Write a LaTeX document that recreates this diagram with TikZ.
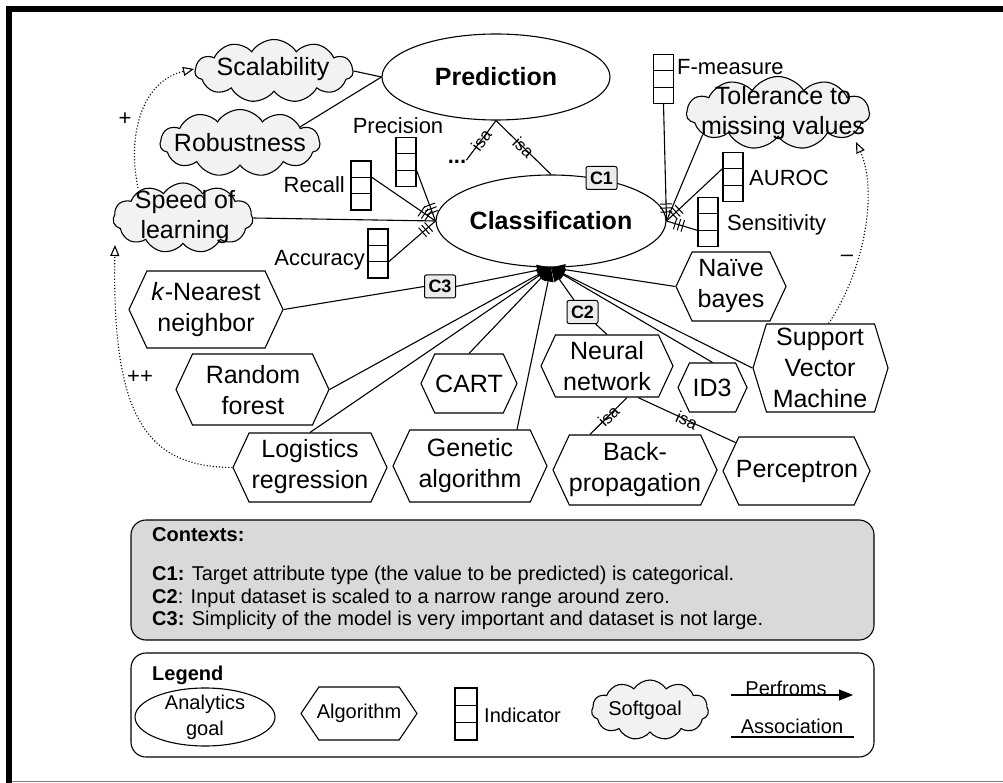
\documentclass[tikz,border=0pt]{standalone}
\usepackage{fontspec}
\setmainfont{Liberation Sans}
\usetikzlibrary{shapes.geometric,shapes.symbols,arrows.meta,decorations.markings,calc}
\newcommand{\fsz}[2]{\fontsize{#1pt}{#2pt}\selectfont}
\tikzset{
  ln/.style={line width=1.1pt},
  goal/.style={ellipse, draw, ln, fill=white, font=\bfseries\fsz{25}{28}, inner sep=0pt},
  soft/.style={cloud, cloud puffs=11, cloud puff arc=115, cloud ignores aspect, draw, ln, fill=gray!10, inner sep=0pt},
  softtext/.style={font=\fsz{25}{30}, align=center, inner sep=0pt},
  algo/.style={signal, signal to=west and east, signal pointer angle=130, draw, ln, fill=white, inner sep=0pt},
  algotext/.style={font=\fsz{25}{31}, align=center, inner sep=0pt},
  indic/.style={rectangle, draw, ln, fill=white, minimum width=20pt, minimum height=49pt, inner sep=0pt,
    path picture={
      \draw[ln] ($(path picture bounding box.north west)!1/3!(path picture bounding box.south west)$) -- ($(path picture bounding box.north east)!1/3!(path picture bounding box.south east)$);
      \draw[ln] ($(path picture bounding box.north west)!2/3!(path picture bounding box.south west)$) -- ($(path picture bounding box.north east)!2/3!(path picture bounding box.south east)$);}},
  lbl/.style={font=\fsz{22}{26}, inner sep=0pt},
  ctxtag/.style={rectangle, rounded corners=2pt, draw, line width=1pt, fill=gray!15, font=\bfseries\fsz{18}{20}, minimum width=31pt, minimum height=23pt, inner sep=0pt},
  perf/.style={ln, -{Triangle[length=14pt,width=11pt]}},
  contrib/.style={ln, dotted, -{Triangle[open,length=11pt,width=9pt]}},
  tripletick/.style={postaction={decorate}, decoration={markings,
     mark=at position -9pt with {\draw[line width=1pt] (0pt,-6pt) -- (0pt,6pt);},
     mark=at position -13pt with {\draw[line width=1pt] (0pt,-6pt) -- (0pt,6pt);},
     mark=at position -17pt with {\draw[line width=1pt] (0pt,-6pt) -- (0pt,6pt);}}},
  isalbl/.style={sloped, font=\fsz{17}{17}, inner sep=0pt},
  ctxtext/.style={font=\fsz{20}{23}, anchor=west, inner sep=0pt},
  legtext/.style={font=\fsz{20}{26}, align=center, inner sep=0pt},
}
\begin{document}
\begin{tikzpicture}[x=1pt,y=-1pt]
\useasboundingbox (0,0) rectangle (1003,783);
% outer frame
\coordinate (fbl) at (9,783);
\coordinate (ftl) at (9,9);
\coordinate (ftr) at (1003,9);
\draw[line width=6pt] (fbl) -- (ftl) -- (ftr);
\coordinate (gbl) at (12,781);
\coordinate (gbr) at (1003,781);
\draw[line width=1pt, gray] (gbl) -- (gbr);

% analytics goals
\node[goal, minimum width=228pt, minimum height=86pt] (pred) at (496,77) {Prediction};
\node[goal, minimum width=228pt, minimum height=92pt] (cls) at (551,221) {Classification};
\node[font=\bfseries\fsz{22}{22}, inner sep=0pt] (dots) at (457,162) {...};

% softgoals
\node[soft, minimum width=158pt, minimum height=63pt] (scal) at (274,71) {};
\node[softtext] (scal-t) at (273,69) {Scalability};
\node[soft, minimum width=160pt, minimum height=67pt] (rob) at (240,143) {};
\node[softtext] (rob-t) at (240,143) {Robustness};
\node[soft, minimum width=140pt, minimum height=70pt] (speed) at (183,218) {};
\node[softtext] (speed-t) at (185,217) {Speed of\\learning};
\node[soft, minimum width=183pt, minimum height=73pt] (tol) at (778,113) {};
\node[softtext] (tol-t) at (783,113) {Tolerance to\\missing values};

% indicators
\node[indic] (rec) at (361,185.5) {};
\node[lbl, anchor=east] (rec-l) at (345,185) {Recall};
\node[indic] (prec) at (406,162) {};
\node[lbl] (prec-l) at (398,126) {Precision};
\node[indic] (acc) at (378,253.5) {};
\node[lbl, anchor=east] (acc-l) at (365,260) {Accuracy};
\node[indic] (fm) at (663.5,79) {};
\node[lbl, anchor=west] (fm-l) at (677,67) {F-measure};
\node[indic] (auc) at (733,177) {};
\node[lbl, anchor=west] (auc-l) at (749,178) {AUROC};
\node[indic] (sens) at (708,222) {};
\node[lbl, anchor=west] (sens-l) at (727,225) {Sensitivity};

% algorithms
\node[algo, minimum width=154pt, minimum height=77pt] (knn) at (206,309.5) {};
\node[algotext] (knn-t) at (206,310) {\textit{k}-Nearest\\neighbor};
\node[algo, minimum width=153pt, minimum height=71pt] (rf) at (252.5,389.5) {};
\node[algotext] (rf-t) at (253,390) {Random\\forest};
\node[algo, minimum width=154pt, minimum height=69pt] (lr) at (310,467.5) {};
\node[algotext] (lr-t) at (310,467) {Logistics\\regression};
\node[algo, minimum width=96pt, minimum height=59pt] (cart) at (469,383.5) {};
\node[algotext] (cart-t) at (469,384) {CART};
\node[algo, minimum width=154pt, minimum height=72pt] (ga) at (470,466) {};
\node[algotext] (ga-t) at (470,466) {Genetic\\algorithm};
\node[algo, minimum width=110pt, minimum height=69pt] (nb) at (731,286.5) {};
\node[algotext] (nb-t) at (731,286) {Naïve\\bayes};
\node[algo, minimum width=132pt, minimum height=62pt] (nn) at (607,366) {};
\node[algotext] (nn-t) at (607,366) {Neural\\network};
\node[algo, minimum width=69pt, minimum height=49pt] (id3) at (712.5,387.5) {};
\node[algotext] (id3-t) at (712,388) {ID3};
\node[algo, signal pointer angle=146, minimum width=135pt, minimum height=88pt] (svm) at (820.5,368) {};
\node[algotext] (svm-t) at (820,368) {Support\\Vector\\Machine};
\node[algo, minimum width=164pt, minimum height=70pt] (bp) at (635,470) {};
\node[algotext] (bp-t) at (635,470) {Back-\\propagation};
\node[algo, minimum width=147pt, minimum height=68pt] (perc) at (796.5,471) {};
\node[algotext] (perc-t) at (797,471) {Perceptron};

% contexts tags
\node[ctxtag] (c1) at (601.5,178) {C1};
\node[ctxtag] (c2) at (582.5,312) {C2};
\node[ctxtag] (c3) at (440,286.5) {C3};

% softgoal associations
\draw[ln] (scal.east) -- (pred.west);
\draw[ln] (rob.15) -- (pred.west);
\draw[ln] (speed.east) -- (cls.west);
\draw[ln] (tol.196) -- (cls.east);

% indicator associations
\draw[ln, tripletick] ($(rec.north east)!1/3!(rec.south east)$) -- (cls.west);
\draw[ln, tripletick] ($(prec.north east)!2/3!(prec.south east)$) -- (cls.west);
\draw[ln, tripletick] ($(acc.north east)!2/3!(acc.south east)$) -- (cls.west);
\draw[ln, tripletick] (fm.south) -- (cls.east);
\draw[ln, tripletick] ($(auc.north west)!1/3!(auc.south west)$) -- (cls.east);
\draw[ln, tripletick] ($(sens.north west)!2/3!(sens.south west)$) -- (cls.east);

% isa links
\draw[ln] (pred.south) -- node[isalbl] (isa1) {isa} (dots.north east);
\draw[ln] (pred.south) -- node[isalbl] (isa2) {isa} (cls.north);
\draw[ln] ([xshift=20pt]nn.south) -- node[isalbl] (isa3) {isa} ([xshift=-45pt]bp.north);
\draw[ln] ([xshift=31pt]nn.south) -- node[isalbl] (isa4) {isa} (perc.155);

% performs links
\draw[ln] (knn.east) -- (c3.west);
\draw[perf] (c3.east) -- (cls.south);
\draw[perf] (rf.east) -- (cls.south);
\draw[perf] (lr.north) -- (cls.south);
\draw[perf] (cart.north) -- (cls.south);
\draw[perf] ([xshift=47pt]ga.north) -- (cls.south);
\draw[perf] (nb.west) -- (cls.south);
\draw[perf] (id3.north) -- (cls.south);
\draw[perf] (svm.west) -- (cls.south);
\draw[ln] (c2) -- (nn.north);
\draw[perf] (c2) -- (cls.south);

% contributions
\draw[contrib] ([xshift=-45pt,yshift=30pt]speed.center) .. controls (126,130) and (145,80) .. ([xshift=-80pt,yshift=2pt]scal.center);
\node[lbl] (plus) at (125,119) {+};
\draw[contrib] (lr.west) .. controls (145,467) and (112,415) .. ([xshift=-68pt,yshift=-27pt]speed.center);
\node[lbl] (pplus) at (140,377) {++};
\draw[contrib] ([xshift=8pt]svm.north) .. controls (865,270) and (878,190) .. ([xshift=78pt,yshift=-29pt]tol.center);
\node[lbl] (minus) at (847,258) {\textendash};

% contexts box
\node[draw, ln, fill=gray!30, rounded corners=15pt, minimum width=743pt, minimum height=120pt] (ctxbox) at (502.5,580) {};
\node[ctxtext, font=\bfseries\fsz{20}{23}] (ctxh) at (152,535) {Contexts:};
\node[ctxtext] (ctx1) at (152,575) {\textbf{C1:} Target attribute type (the value to be predicted) is categorical.};
\node[ctxtext] (ctx2) at (152,598) {\textbf{C2}: Input dataset is scaled to a narrow range around zero.};
\node[ctxtext] (ctx3) at (152,620) {\textbf{C3:} Simplicity of the model is very important and dataset is not large.};

% legend box
\node[draw, ln, fill=white, rounded corners=15pt, minimum width=743pt, minimum height=104pt] (legbox) at (502.5,705) {};
\node[ctxtext, font=\bfseries\fsz{20}{23}] (legh) at (152,675) {Legend};
\node[ellipse, draw, ln, fill=white, minimum width=140pt, minimum height=58pt, inner sep=0pt] (lgoal) at (205,717) {};
\node[legtext] (lgoal-t) at (205,717) {Analytics\\goal};
\node[algo, signal pointer angle=112, minimum width=116pt, minimum height=53pt] (lalgo) at (359,713.5) {};
\node[legtext] (lalgo-t) at (359,713) {Algorithm};
\node[indic, minimum width=22pt, minimum height=52pt] (lind) at (466,714) {};
\node[legtext, anchor=west] (lind-t) at (484,715) {Indicator};
\node[soft, minimum width=117pt, minimum height=60pt] (lsoft) at (650,710) {};
\node[legtext] (lsoft-t) at (645,710) {Softgoal};
\coordinate (pa) at (731,695);
\coordinate (pb) at (853,695);
\draw[perf] (pa) -- (pb);
\node[legtext, anchor=base] (perf-t) at (786,695) {Perfroms};
\coordinate (qa) at (731,737);
\coordinate (qb) at (854,737);
\draw[ln] (qa) -- (qb);
\node[legtext] (assoc-t) at (792,726) {Association};
\end{tikzpicture}
\end{document}
